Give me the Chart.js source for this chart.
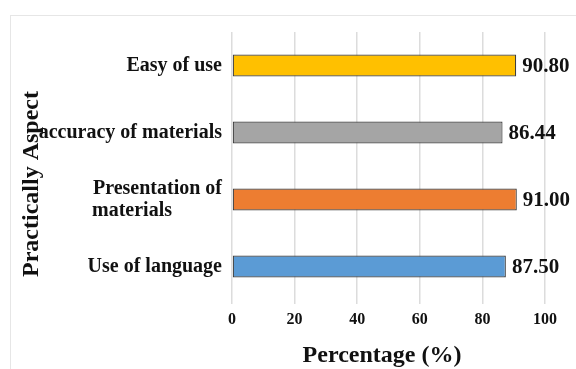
<!DOCTYPE html>
<html>
<head>
<meta charset="utf-8">
<script src="https://cdn.jsdelivr.net/npm/chart.js@4.4.1/dist/chart.umd.min.js"></script>
<style>
  html, body { margin: 0; padding: 0; background: #fff; }
  #wrap { position: relative; width: 576px; height: 369px; }
  #frame { position: absolute; left: 10px; top: 15px; right: -2px; bottom: -2px; border: 1px solid #e6e6e6; }
  canvas { position: absolute; left: 0; top: 0; }
</style>
</head>
<body>
<div id="wrap">
  <div id="frame"></div>
  <canvas id="chart" width="576" height="369"></canvas>
</div>
<script>
// Data (top to bottom)
const aspects = ['Easy of use', 'accuracy of materials', ['Presentation of', 'materials          '], 'Use of language'];
const percentages = [90.80, 86.44, 91.00, 87.50];
const barColors = ['#FFC000', '#A5A5A5', '#ED7D31', '#5B9BD5'];
const xTicks = [0, 20, 40, 60, 80, 100];

const serif = '"Liberation Serif", "Times New Roman", serif';

// value labels at the end of each bar
const valueLabels = {
    id: 'valueLabels',
    afterDatasetsDraw(chart) {
        const ctx = chart.ctx;
        const meta = chart.getDatasetMeta(0);
        ctx.save();
        ctx.font = 'bold 21px ' + serif;
        ctx.fillStyle = '#111';
        ctx.textAlign = 'left';
        ctx.textBaseline = 'middle';
        meta.data.forEach((bar, i) => {
            ctx.fillText(percentages[i].toFixed(2), bar.x + 6, bar.y + 1);
        });
        ctx.restore();
    }
};

// axis titles placed like the original figure
const axisTitles = {
    id: 'axisTitles',
    afterDraw(chart) {
        const ctx = chart.ctx;
        ctx.save();
        ctx.fillStyle = '#111';
        ctx.font = 'bold 24px ' + serif;
        ctx.textAlign = 'center';
        ctx.textBaseline = 'alphabetic';
        ctx.fillText('Percentage (%)', 382, 362);
        ctx.translate(38, 184);
        ctx.rotate(-Math.PI / 2);
        ctx.fillText('Practically Aspect', 0, 0);
        ctx.restore();
    }
};

new Chart(document.getElementById('chart'), {
    type: 'bar',
    data: {
        labels: aspects,
        datasets: [{
            data: percentages,
            backgroundColor: barColors,
            borderColor: '#404040',
            borderWidth: 1.2,
            borderSkipped: false,
            barPercentage: 0.66,
            categoryPercentage: 0.5
        }]
    },
    options: {
        indexAxis: 'y',
        responsive: false,
        animation: false,
        layout: { padding: { top: 32, right: 31, left: 0, bottom: 0 } },
        plugins: { legend: { display: false }, tooltip: { enabled: false } },
        scales: {
            x: {
                min: 0,
                max: 100,
                afterBuildTicks(scale) { scale.ticks = xTicks.map(v => ({ value: v })); },
                grid: { color: '#dcdcdc', lineWidth: 1.5, drawTicks: true, tickLength: 4, tickColor: '#dcdcdc' },
                border: { display: false },
                ticks: { color: '#111', font: { family: serif, weight: 'bold', size: 16 }, padding: 6 },
                afterFit(scale) { scale.height = 69; }
            },
            y: {
                grid: { display: false },
                border: { display: false },
                ticks: { color: '#111', font: { family: serif, weight: 'bold', size: 20, lineHeight: 1.1 }, padding: 2 },
                afterFit(scale) { scale.width = 232; }
            }
        }
    },
    plugins: [valueLabels, axisTitles]
});
</script>
</body>
</html>
